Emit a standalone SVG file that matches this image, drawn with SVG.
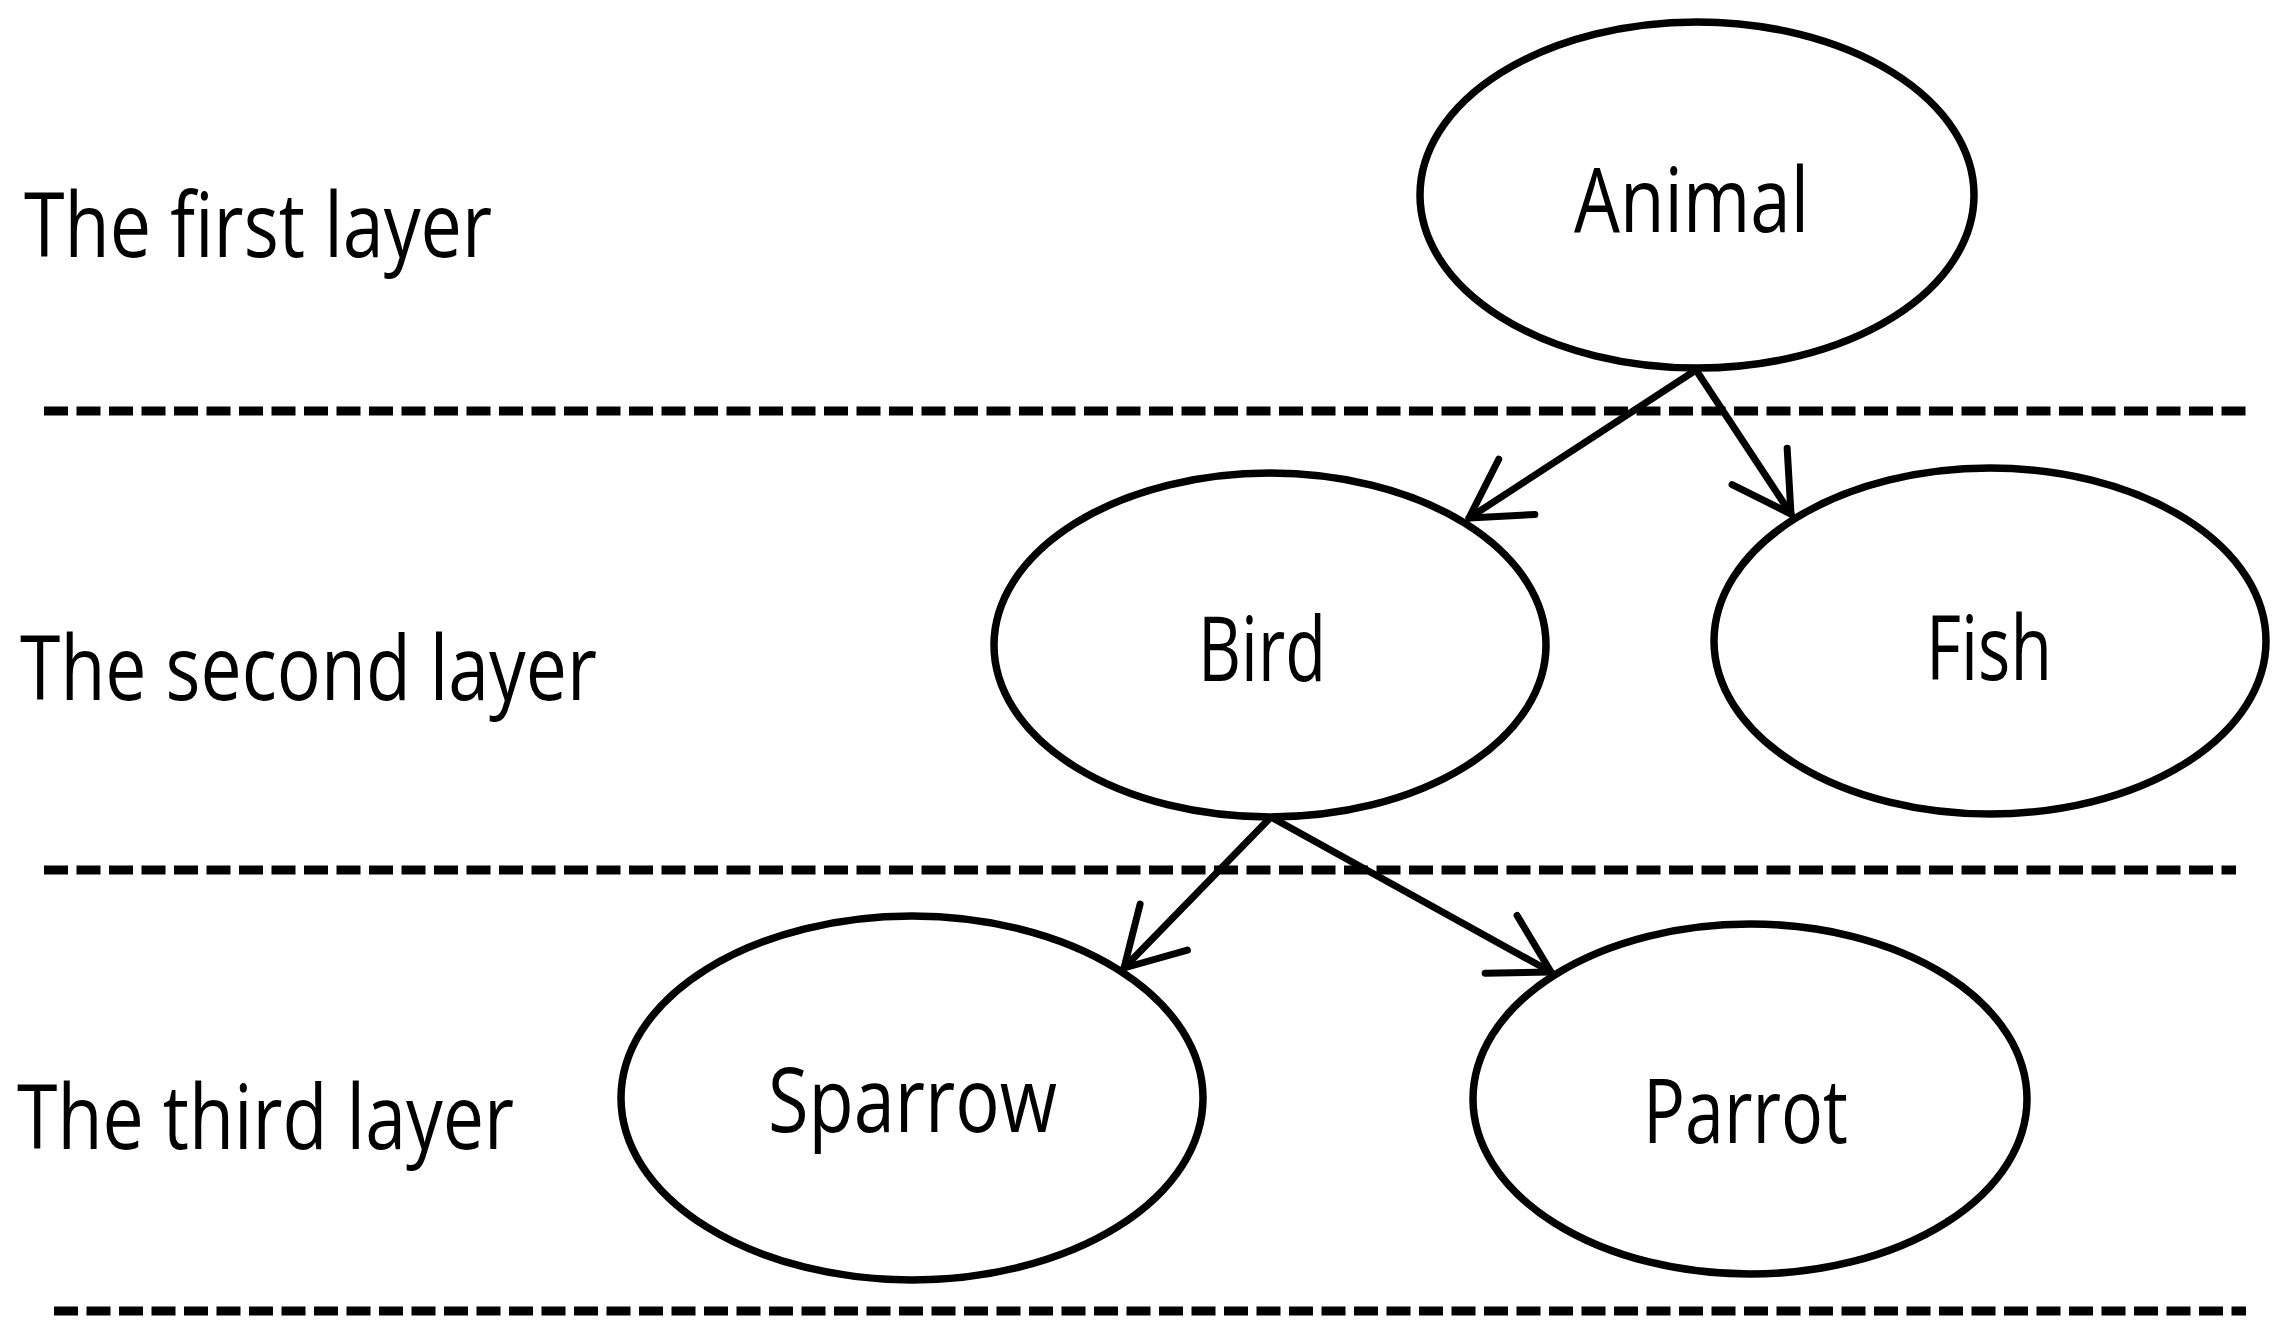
<svg xmlns="http://www.w3.org/2000/svg" width="2296" height="1340" viewBox="0 0 2296 1340">
<style>
.node{fill:#fff;stroke:#000;stroke-width:7.5}
.lbl{font-family:"Open Sans","Noto Sans","Liberation Sans",sans-serif;font-size:90px;fill:#000}
.sep{stroke:#000;stroke-width:9;stroke-dasharray:24 8.5;fill:none}
.edge{stroke:#000;stroke-width:7;fill:none;stroke-linecap:round}
</style>
<defs>
<marker id="arr" markerUnits="userSpaceOnUse" markerWidth="140" markerHeight="140" refX="0" refY="0" orient="auto" viewBox="-70 -70 140 140" overflow="visible">
<path d="M -57 -33 L 0 0 L -57 33" fill="none" stroke="#000" stroke-width="7" stroke-linecap="round" stroke-linejoin="round"/>
</marker>
</defs>
<rect width="2296" height="1340" fill="#fff"/>
<g id="separators">
<line class="sep" x1="44" y1="411" x2="2246" y2="411"/>
<line class="sep" x1="44" y1="870" x2="2236" y2="870"/>
<line class="sep" x1="54" y1="1311" x2="2246" y2="1311"/>
</g>
<g id="layer-labels">
<text class="lbl" x="24" y="257" textLength="468" lengthAdjust="spacingAndGlyphs">The first layer</text>
<text class="lbl" x="20" y="700" textLength="577" lengthAdjust="spacingAndGlyphs">The second layer</text>
<text class="lbl" x="17" y="1149" textLength="497" lengthAdjust="spacingAndGlyphs">The third layer</text>
</g>
<g id="connectors">
<line class="edge" x1="1696" y1="370" x2="1469" y2="518" marker-end="url(#arr)"/>
<line class="edge" x1="1696" y1="370" x2="1791" y2="514" marker-end="url(#arr)"/>
<line class="edge" x1="1271" y1="817" x2="1124" y2="968" marker-end="url(#arr)"/>
<line class="edge" x1="1271" y1="817" x2="1551" y2="972" marker-end="url(#arr)"/>
</g>
<g id="node-animal">
<ellipse class="node" cx="1697" cy="195" rx="277" ry="173"/>
<text class="lbl" x="1574" y="232" textLength="235" lengthAdjust="spacingAndGlyphs">Animal</text>
</g>
<g id="node-bird">
<ellipse class="node" cx="1270" cy="645" rx="276" ry="172"/>
<text class="lbl" x="1198" y="681" textLength="128" lengthAdjust="spacingAndGlyphs">Bird</text>
</g>
<g id="node-fish">
<ellipse class="node" cx="1990" cy="641" rx="276" ry="173"/>
<text class="lbl" x="1926" y="680" textLength="126" lengthAdjust="spacingAndGlyphs">Fish</text>
</g>
<g id="node-sparrow">
<ellipse class="node" cx="912" cy="1098" rx="291" ry="182"/>
<text class="lbl" x="768" y="1132" textLength="289" lengthAdjust="spacingAndGlyphs">Sparrow</text>
</g>
<g id="node-parrot">
<ellipse class="node" cx="1750" cy="1099" rx="277" ry="175"/>
<text class="lbl" x="1643" y="1143" textLength="205" lengthAdjust="spacingAndGlyphs">Parrot</text>
</g>
</svg>
